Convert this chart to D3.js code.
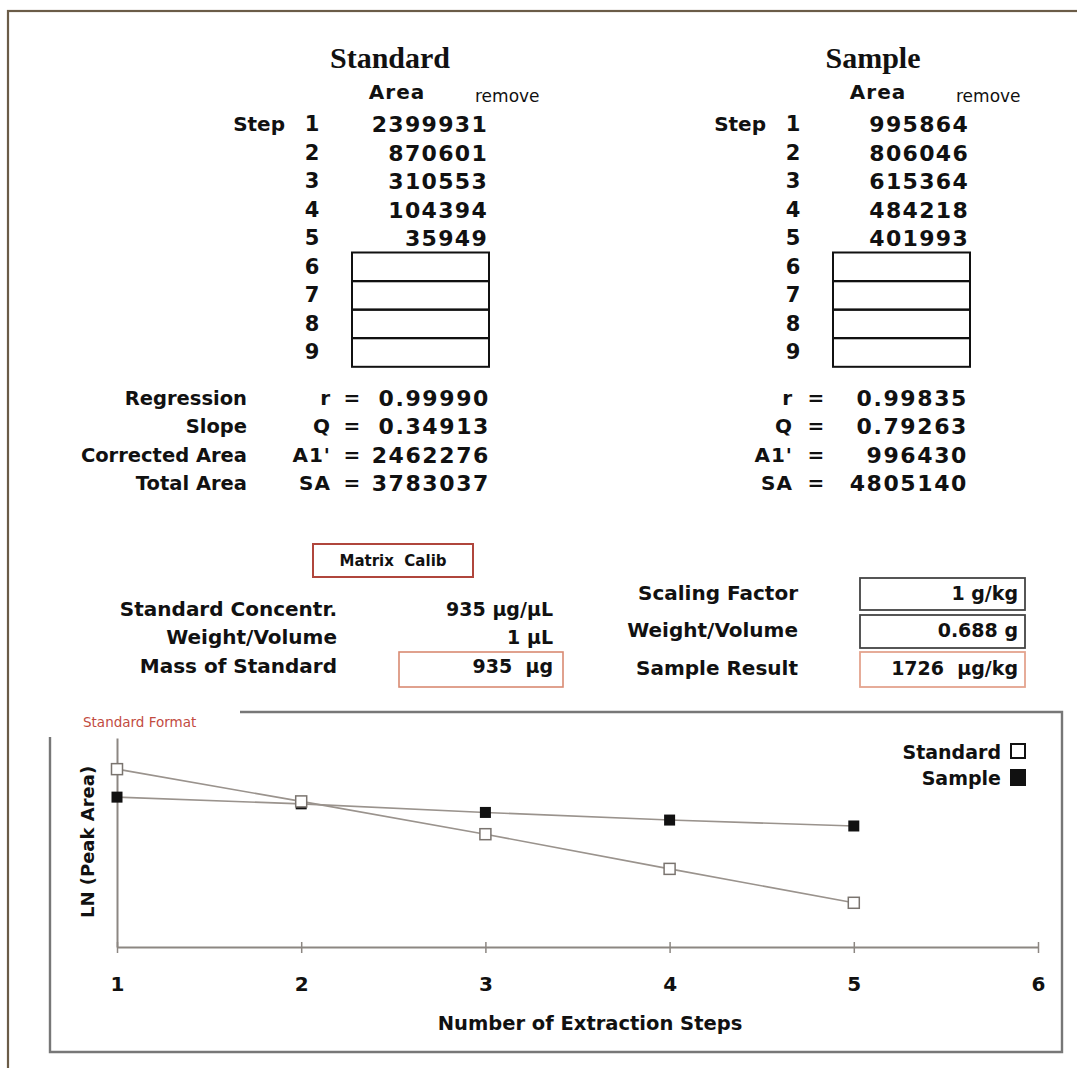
<!DOCTYPE html>
<html>
<head>
<meta charset="utf-8">
<script src="https://cdn.jsdelivr.net/npm/d3@7"></script>
<style>
  html, body { margin: 0; padding: 0; background: #fff; }
  svg { display: block; }
  text { font-family: "DejaVu Sans", Verdana, sans-serif; fill: #111; }
  .serif { font-family: "Liberation Serif", "Times New Roman", serif; }
</style>
</head>
<body>
<svg id="chart" width="1077" height="1068"></svg>
<script>
// ---- Peak areas per extraction step ----
const steps = [1, 2, 3, 4, 5];
const standardArea = [2399931, 870601, 310553, 104394, 35949];
const sampleArea = [995864, 806046, 615364, 484218, 401993];
const stepLabels = [1, 2, 3, 4, 5, 6, 7, 8, 9];

// ---- Regression summary ----
const regressionLabels = ["Regression", "Slope", "Corrected Area", "Total Area"];
const regressionKeys = ["r", "Q", "A1'", "SA"];
const standardRegression = ["0.99990", "0.34913", "2462276", "3783037"];
const sampleRegression = ["0.99835", "0.79263", "996430", "4805140"];

// ---- Calibration parameters ----
const standardParamLabels = ["Standard Concentr.", "Weight/Volume", "Mass of Standard"];
const standardParamValues = ["935 \u00b5g/\u00b5L", "1 \u00b5L", "935  \u00b5g"];
const sampleParamLabels = ["Scaling Factor", "Weight/Volume", "Sample Result"];
const sampleParamValues = ["1 g/kg", "0.688 g", "1726  \u00b5g/kg"];

// ---- Plot axis ----
const xTicks = [1, 2, 3, 4, 5, 6];
const seriesNames = ["Standard", "Sample"];

const svg = d3.select("#chart");

// outer frame
svg.append("rect")
  .attr("x", 8).attr("y", 11).attr("width", 1100).attr("height", 1100)
  .attr("fill", "none").attr("stroke", "#6b5c48").attr("stroke-width", 2.2);

// ================= data tables =================
const rowY = d3.scaleLinear().domain([1, 9]).range([131, 359]);

function drawTable(g, title, areas, titleX) {
  g.append("text").attr("class", "serif")
    .attr("x", titleX).attr("y", 68).attr("text-anchor", "middle")
    .attr("font-size", 30).attr("font-weight", "bold").text(title);

  g.append("text").attr("x", 397).attr("y", 99).attr("text-anchor", "middle")
    .attr("font-size", 20).attr("font-weight", "bold").attr("letter-spacing", 1).text("Area");
  g.append("text").attr("x", 475).attr("y", 102)
    .attr("font-size", 17).text("remove");

  g.append("text").attr("x", 285).attr("y", rowY(1)).attr("text-anchor", "end")
    .attr("font-size", 20).attr("font-weight", "bold").text("Step");

  g.selectAll("text.step").data(stepLabels).join("text")
    .attr("class", "step")
    .attr("x", 312).attr("y", d => rowY(d)).attr("text-anchor", "middle")
    .attr("font-size", 21).attr("font-weight", "bold").text(d => d);

  g.selectAll("text.area").data(areas).join("text")
    .attr("class", "area")
    .attr("x", 488).attr("y", (d, i) => rowY(steps[i]) + 1).attr("text-anchor", "end")
    .attr("font-size", 22).attr("font-weight", "bold").attr("letter-spacing", 1.3).text(d => d);

  // empty entry cells for steps 6-9
  const empty = stepLabels.filter(s => s > steps.length);
  g.selectAll("rect.cell").data(empty).join("rect")
    .attr("class", "cell")
    .attr("x", 352).attr("y", d => rowY(d) - 21)
    .attr("width", 137).attr("height", 28.8)
    .attr("fill", "none").attr("stroke", "#111").attr("stroke-width", 2);
}

const leftTable = svg.append("g");
drawTable(leftTable, "Standard", standardArea, 390);
const rightTable = svg.append("g").attr("transform", "translate(481,0)");
drawTable(rightTable, "Sample", sampleArea, 392);

// regression block
const regY = d3.scaleLinear().domain([0, 3]).range([405, 490]);

svg.selectAll("text.reglab").data(regressionLabels).join("text")
  .attr("class", "reglab")
  .attr("x", 247).attr("y", (d, i) => regY(i)).attr("text-anchor", "end")
  .attr("font-size", 19.5).attr("font-weight", "bold").text(d => d);

function drawRegression(keyX, eqX, valX, values) {
  svg.append("g").selectAll("text").data(regressionKeys).join("text")
    .attr("x", keyX).attr("y", (d, i) => regY(i)).attr("text-anchor", "end")
    .attr("font-size", 20).attr("font-weight", "bold").attr("letter-spacing", 1).text(d => d);
  svg.append("g").selectAll("text").data(regressionKeys).join("text")
    .attr("x", eqX).attr("y", (d, i) => regY(i)).attr("text-anchor", "middle")
    .attr("font-size", 20).attr("font-weight", "bold").text("=");
  svg.append("g").selectAll("text").data(values).join("text")
    .attr("x", valX).attr("y", (d, i) => regY(i) + 1).attr("text-anchor", "end")
    .attr("font-size", 22).attr("font-weight", "bold").attr("letter-spacing", 1.6).text(d => d);
}
drawRegression(331, 352, 490, standardRegression);
drawRegression(793, 816, 968, sampleRegression);

// ================= calibration section =================
svg.append("rect").attr("x", 313).attr("y", 544).attr("width", 160).attr("height", 33)
  .attr("fill", "none").attr("stroke", "#b0463c").attr("stroke-width", 2);
svg.append("text").attr("x", 393).attr("y", 566).attr("text-anchor", "middle")
  .attr("font-size", 15).attr("font-weight", "bold")
  .style("white-space", "pre").text("Matrix  Calib");

const leftParamY = [616, 644, 673];
svg.selectAll("text.lpl").data(standardParamLabels).join("text")
  .attr("class", "lpl")
  .attr("x", 337).attr("y", (d, i) => leftParamY[i]).attr("text-anchor", "end")
  .attr("font-size", 20).attr("font-weight", "bold").text(d => d);
svg.selectAll("text.lpv").data(standardParamValues).join("text")
  .attr("class", "lpv")
  .attr("x", 553).attr("y", (d, i) => leftParamY[i]).attr("text-anchor", "end")
  .attr("font-size", 19).attr("font-weight", "bold")
  .style("white-space", "pre").text(d => d);
svg.append("rect").attr("x", 399).attr("y", 652).attr("width", 164).attr("height", 35)
  .attr("fill", "none").attr("stroke", "#d98a72").attr("stroke-width", 1.6);

const rightParamY = [600, 637, 675];
const rightBoxes = [
  { y: 578, h: 32, c: "#444" },
  { y: 615, h: 33, c: "#444" },
  { y: 652, h: 35, c: "#e4a48e" }
];
svg.selectAll("rect.rbox").data(rightBoxes).join("rect")
  .attr("class", "rbox")
  .attr("x", 860).attr("y", d => d.y).attr("width", 165).attr("height", d => d.h)
  .attr("fill", "none").attr("stroke", d => d.c).attr("stroke-width", 1.8);
svg.selectAll("text.rpl").data(sampleParamLabels).join("text")
  .attr("class", "rpl")
  .attr("x", 798).attr("y", (d, i) => rightParamY[i]).attr("text-anchor", "end")
  .attr("font-size", 20).attr("font-weight", "bold").text(d => d);
svg.selectAll("text.rpv").data(sampleParamValues).join("text")
  .attr("class", "rpv")
  .attr("x", 1018).attr("y", (d, i) => rightParamY[i]).attr("text-anchor", "end")
  .attr("font-size", 19).attr("font-weight", "bold")
  .style("white-space", "pre").text(d => d);

// ================= LN(peak area) plot =================
const panel = svg.append("g").attr("fill", "none").attr("stroke", "#777").attr("stroke-width", 2.4);
panel.append("path").attr("d", "M240,712 H1062 V1052 H50 V737");

svg.append("text").attr("x", 83).attr("y", 727)
  .attr("font-size", 13.5).style("fill", "#c24b3f").text("Standard Format");

const x = d3.scaleLinear().domain([1, 6]).range([117, 1038]);
const y = d3.scaleLinear().domain([9.1, 15.67]).range([947, 738]);

const standardLn = standardArea.map(v => Math.log(v));
const sampleLn = sampleArea.map(v => Math.log(v));

// x axis with ticks crossing the line
const xAxis = svg.append("g").attr("transform", `translate(0,${y(9.1)})`)
  .call(d3.axisBottom(x).tickValues(xTicks).tickFormat(d3.format("d"))
    .tickSize(11).tickPadding(19).tickSizeOuter(0));
xAxis.select(".domain").attr("stroke", "#8c8782").attr("stroke-width", 2);
xAxis.selectAll(".tick line").attr("stroke", "#8c8782").attr("stroke-width", 1.5)
  .attr("y1", -5).attr("y2", 6);
xAxis.selectAll(".tick text").attr("font-family", "DejaVu Sans, sans-serif")
  .attr("font-size", 20).attr("font-weight", "bold").attr("fill", "#111");

// y axis: plain line
const yAxis = svg.append("g").attr("transform", `translate(${x(1)},0)`)
  .call(d3.axisLeft(y).tickValues([]).tickSizeOuter(0));
yAxis.select(".domain").attr("stroke", "#8c8782").attr("stroke-width", 2);

const line = d3.line().x((d, i) => x(steps[i])).y(d => y(d));
svg.append("path").datum(standardLn).attr("d", line)
  .attr("fill", "none").attr("stroke", "#9a938d").attr("stroke-width", 1.6);
svg.append("path").datum(sampleLn).attr("d", line)
  .attr("fill", "none").attr("stroke", "#9a938d").attr("stroke-width", 1.6);

const ms = 11;
svg.selectAll("rect.sample").data(sampleLn).join("rect")
  .attr("class", "sample")
  .attr("x", (d, i) => x(steps[i]) - ms / 2).attr("y", d => y(d) - ms / 2)
  .attr("width", ms).attr("height", ms).attr("fill", "#111");
const os = 11;
svg.selectAll("rect.standard").data(standardLn).join("rect")
  .attr("class", "standard")
  .attr("x", (d, i) => x(steps[i]) - os / 2).attr("y", d => y(d) - os / 2)
  .attr("width", os).attr("height", os)
  .attr("fill", "#fff").attr("stroke", "#7a746f").attr("stroke-width", 1.5);

// axis titles
svg.append("text").attr("x", 590).attr("y", 1030).attr("text-anchor", "middle")
  .attr("font-size", 19.5).attr("font-weight", "bold").text("Number of Extraction Steps");
svg.append("text").attr("transform", "translate(94,842) rotate(-90)")
  .attr("text-anchor", "middle")
  .attr("font-size", 18).attr("font-weight", "bold").text("LN (Peak Area)");

// legend
const legend = svg.append("g");
legend.selectAll("text").data(seriesNames).join("text")
  .attr("x", 1001).attr("y", (d, i) => 759 + i * 26).attr("text-anchor", "end")
  .attr("font-size", 19).attr("font-weight", "bold").text(d => d);
legend.append("rect").attr("x", 1011).attr("y", 744).attr("width", 14).attr("height", 14)
  .attr("fill", "#fff").attr("stroke", "#111").attr("stroke-width", 2);
legend.append("rect").attr("x", 1010).attr("y", 769).attr("width", 16).attr("height", 17)
  .attr("fill", "#111");
</script>
</body>
</html>
